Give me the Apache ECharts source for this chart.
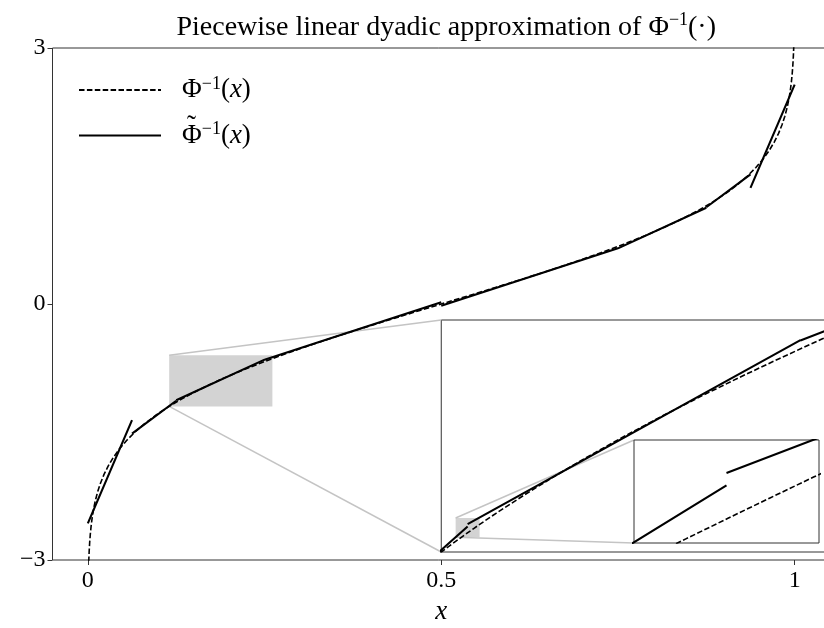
<!DOCTYPE html>
<html>
<head>
<meta charset="utf-8">
<script src="https://cdn.jsdelivr.net/npm/echarts@6/dist/echarts.min.js"></script>
<style>
  html, body { margin: 0; padding: 0; background: #fff; }
  #chart { width: 824px; height: 628px; }
</style>
</head>
<body>
<div id="chart"></div>
<script>
// Axis ticks
const xTickValues = [0, 0.5, 1];
const yTickValues = [-3, 0, 3];

// Dyadic knots and the linear piece on each interval:
// value at the left end and value at the right end of the interval
const knots = [0, 0.0625, 0.125, 0.25, 0.5, 0.75, 0.875, 0.9375, 1];
const pieceStart = [-2.57, -1.518, -1.128, -0.653, -0.021, 0.652, 1.134, 1.36];
const pieceEnd = [-1.36, -1.134, -0.652, 0.021, 0.653, 1.128, 1.518, 2.57];

// Standard normal quantile curve: probability x and quantile z
const quantileP = [
  0.000483, 0.000687, 0.000968, 0.001350, 0.001866, 0.002555, 0.003467, 0.004661,
  0.006210, 0.008198, 0.010724, 0.013903, 0.017864, 0.022750, 0.028717, 0.035930,
  0.044565, 0.054799, 0.066807, 0.080757, 0.096800, 0.105650, 0.115070, 0.119000,
  0.121001, 0.123024, 0.125072, 0.127143, 0.129238, 0.131357, 0.135666, 0.146859,
  0.158655, 0.171056, 0.184060, 0.197663, 0.211855, 0.226627, 0.241964, 0.257846,
  0.274253, 0.308538, 0.344578, 0.382089, 0.420740, 0.460172, 0.5,
  0.539828, 0.579260, 0.617911, 0.655422, 0.691462, 0.725747, 0.758036, 0.788145,
  0.815940, 0.841345, 0.864334, 0.884930, 0.903200, 0.919243, 0.933193, 0.945201,
  0.955435, 0.964070, 0.971283, 0.977250, 0.982136, 0.986097, 0.989276, 0.991802,
  0.993790, 0.995339, 0.996533, 0.997445, 0.998134, 0.998650, 0.999032, 0.999313,
  0.999517
];
const quantileZ = [
  -3.3, -3.2, -3.1, -3.0, -2.9, -2.8, -2.7, -2.6,
  -2.5, -2.4, -2.3, -2.2, -2.1, -2.0, -1.9, -1.8,
  -1.7, -1.6, -1.5, -1.4, -1.3, -1.25, -1.2, -1.18,
  -1.17, -1.16, -1.15, -1.14, -1.13, -1.12, -1.1, -1.05,
  -1.0, -0.95, -0.9, -0.85, -0.8, -0.75, -0.7, -0.65,
  -0.6, -0.5, -0.4, -0.3, -0.2, -0.1, 0,
  0.1, 0.2, 0.3, 0.4, 0.5, 0.6, 0.7, 0.8,
  0.9, 1.0, 1.1, 1.2, 1.3, 1.4, 1.5, 1.6,
  1.7, 1.8, 1.9, 2.0, 2.1, 2.2, 2.3, 2.4,
  2.5, 2.6, 2.7, 2.8, 2.9, 3.0, 3.1, 3.2,
  3.3
];

// Zoom windows: the first inset, and the one nested inside it
const windowA = { x: [0.1151, 0.2611], y: [-1.2, -0.6] };
const windowB = { x: [0.1205, 0.1295], y: [-1.162, -1.112] };

// ---- build series data ----
const exactData = quantileP.map((p, i) => [p, quantileZ[i]]);
const approxData = [];
for (let i = 0; i < pieceStart.length; i++) {
  approxData.push([knots[i], pieceStart[i]]);
  approxData.push([knots[i + 1], pieceEnd[i]]);
  approxData.push([knots[i + 1], '-']); // break between pieces
}

const SERIF = '"Liberation Serif", "DejaVu Serif", serif';
const INK = '#000';
const FRAME = '#333';
const SHADE = '#d3d3d3';
const CONNECT = '#c4c4c4';

const dashStyle = { color: INK, width: 1.6, type: [5.5, 2.4] };
const solidStyle = { color: INK, width: 2.1, type: 'solid' };

// Layout (the main axes run a little past the right edge of the canvas)
const mainGrid = { left: 52.5, top: 48, width: 777.5, height: 512 };
const gridA = { left: 441.25, top: 320, width: 388.75, height: 232 };
const gridB = { left: 634, top: 440, width: 185, height: 103 };

function hiddenAxis(range, gi) {
  return { type: 'value', gridIndex: gi, min: range[0], max: range[1], show: false,
           splitLine: { show: false } };
}

function curvePair(gi, z, shadeWindow) {
  const base = { type: 'line', xAxisIndex: gi, yAxisIndex: gi, showSymbol: false,
                 symbol: 'none', clip: true, animation: false, z: z, silent: true,
                 itemStyle: { color: INK, opacity: 0 } };
  const solid = Object.assign({}, base, { name: 'approx', data: approxData,
                 lineStyle: solidStyle, connectNulls: false });
  if (shadeWindow) {
    solid.markArea = {
      silent: true,
      itemStyle: { color: SHADE, borderWidth: 0, opacity: 1 },
      label: { show: false },
      data: [[{ coord: [shadeWindow.x[0], shadeWindow.y[0]] },
              { coord: [shadeWindow.x[1], shadeWindow.y[1]] }]]
    };
  }
  return [
    Object.assign({}, base, { name: 'exact', data: exactData, lineStyle: dashStyle }),
    solid
  ];
}

const labelRich = {
  lead: { fontFamily: SERIF, fontSize: 27, color: INK, lineHeight: 30, padding: [0, 0, 0, 16] },
  n: { fontFamily: SERIF, fontSize: 27, color: INK, lineHeight: 30 },
  it: { fontFamily: SERIF, fontSize: 27, color: INK, lineHeight: 30, fontStyle: 'italic' },
  sup: { fontFamily: SERIF, fontSize: 18, color: INK, lineHeight: 17, verticalAlign: 'top' }
};

function frameGrid(box, z) {
  return Object.assign({ show: true, backgroundColor: '#fff', borderColor: FRAME,
                         borderWidth: 1, z: z, outerBoundsMode: 'none', containLabel: false }, box);
}

const option = {
  backgroundColor: '#fff',
  animation: false,
  title: {
    text: 'Piecewise linear dyadic approximation of Φ{sup|−1}(·)',
    left: mainGrid.left + mainGrid.width / 2,
    textAlign: 'center',
    top: 6,
    textStyle: {
      fontFamily: SERIF, fontSize: 28, fontWeight: 'normal', color: INK, lineHeight: 34,
      rich: { sup: { fontFamily: SERIF, fontSize: 18, color: INK, lineHeight: 19, verticalAlign: 'top' } }
    }
  },
  legend: {
    orient: 'vertical',
    left: 78,
    top: 75,
    padding: 0,
    itemWidth: 82,
    itemHeight: 14,
    itemGap: 17,
    selectedMode: false,
    data: ['exact', 'approx'],
    itemStyle: { opacity: 0 },
    formatter: function (name) {
      return '{lead|Φ}{sup|−1}{n|(}{it|x}{n|)}';
    },
    textStyle: { rich: labelRich }
  },
  grid: [frameGrid(mainGrid, 0), frameGrid(gridA, 0), frameGrid(gridB, 4)],
  xAxis: [
    {
      type: 'value', gridIndex: 0, min: -0.05, max: 1.05,
      name: 'x', nameLocation: 'middle', nameGap: 38,
      nameTextStyle: { fontFamily: SERIF, fontSize: 27, fontStyle: 'italic', color: INK },
      axisLine: { show: false, onZero: false },
      axisTick: { show: true, customValues: xTickValues, length: 5, inside: false,
                  lineStyle: { color: FRAME, width: 1 } },
      axisLabel: { customValues: xTickValues, margin: 9, fontFamily: SERIF, fontSize: 24, color: INK },
      splitLine: { show: false }
    },
    hiddenAxis(windowA.x, 1),
    hiddenAxis(windowB.x, 2)
  ],
  yAxis: [
    {
      type: 'value', gridIndex: 0, min: yTickValues[0], max: yTickValues[yTickValues.length - 1],
      interval: 3,
      axisLine: { show: false, onZero: false },
      axisTick: { show: true, length: 5, inside: false, lineStyle: { color: FRAME, width: 1 } },
      axisLabel: {
        margin: 7, fontFamily: SERIF, fontSize: 24, color: INK,
        formatter: v => (v < 0 ? '−' + Math.abs(v) : String(v))
      },
      splitLine: { show: false }
    },
    hiddenAxis(windowA.y, 1),
    hiddenAxis(windowB.y, 2)
  ],
  series: [].concat(
    curvePair(0, 2, windowA),
    curvePair(1, 2, windowB),
    curvePair(2, 5, null)
  )
};

const chart = echarts.init(document.getElementById('chart'), null, { renderer: 'canvas' });
chart.setOption(option);

// Connector lines from each shaded window to the inset that magnifies it
function corner(gi, w, top) {
  return chart.convertToPixel({ gridIndex: gi }, [w.x[0], top ? w.y[1] : w.y[0]]);
}
function connector(a, b, z) {
  return { type: 'line', silent: true, z: z,
           shape: { x1: a[0], y1: a[1], x2: b[0], y2: b[1] },
           style: { stroke: CONNECT, lineWidth: 1.5 } };
}
chart.setOption({
  graphic: [
    connector(corner(0, windowA, true), corner(1, windowA, true), 1),
    connector(corner(0, windowA, false), corner(1, windowA, false), 1),
    connector(corner(1, windowB, true), corner(2, windowB, true), 1),
    connector(corner(1, windowB, false), corner(2, windowB, false), 1),
    // tilde accent over the second legend entry's Φ
    { type: 'text', silent: true, z: 10,
      style: { text: '˜', x: 191.5, y: 127, align: 'center', verticalAlign: 'middle',
               font: '27px ' + SERIF, fill: INK } }
  ]
});
</script>
</body>
</html>
